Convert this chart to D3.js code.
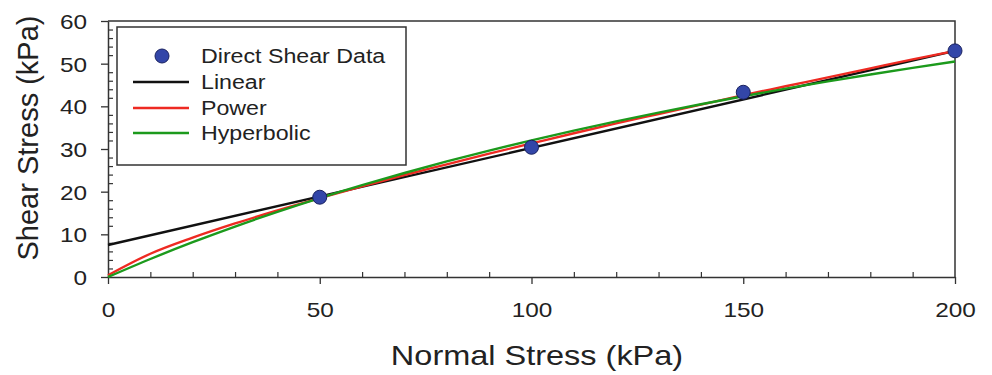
<!DOCTYPE html>
<html><head><meta charset="utf-8">
<script src="https://cdn.jsdelivr.net/npm/d3@7"></script>
<style>body{margin:0;background:#fff}svg{display:block}text{font-family:"Liberation Sans",Arial,sans-serif;fill:#222}</style>
</head><body><svg id="c" width="992" height="375"></svg>
<script>
const dataX = [50, 100, 150, 200];
const dataY = [18.7, 30.4, 43.3, 53.0];
const linearX = [0, 200];
const linearY = [7.5, 53.0];
const curveX = [0,10,20,30,40,50,60,70,80,90,100,110,120,130,140,150,160,170,180,190,200];
const powerY = [0.4,5.45,9.23,12.56,15.6,18.5,21.25,23.9,26.4,28.9,31.3,33.7,36.0,38.2,40.4,42.6,44.7,46.8,48.9,51.0,53.0];
const hyperY = [0,4.22,8.16,11.83,15.27,18.5,21.53,24.38,27.08,29.62,32.03,34.31,36.47,38.54,40.5,42.36,44.14,45.84,47.47,49.02,50.5];
const xTicks = [0,50,100,150,200];
const yTicks = [0,10,20,30,40,50,60];
const legendLabels = ["Direct Shear Data","Linear","Power","Hyperbolic"];
const colors = {data:"#3346a8", linear:"#111", power:"#ee2a22", hyper:"#1c9a1c"};

const SX = 1.16; // horizontal text stretch
const svg = d3.select("#c");
const L=108,R=955,T=21,B=277;
const x = d3.scaleLinear().domain([0,200]).range([L,R]);
const y = d3.scaleLinear().domain([0,60]).range([B,T]);
const g = svg.append("g");

// frame top/right
g.append("path").attr("d",`M${L},${T}H${R}V${B}`).attr("fill","none").attr("stroke","#333").attr("stroke-width",1.5);

// axes
const xa = g.append("g").attr("transform",`translate(0,${B})`)
  .call(d3.axisBottom(x).tickValues(xTicks).tickSize(7).tickSizeOuter(0));
const ya = g.append("g").attr("transform",`translate(${L},0)`)
  .call(d3.axisLeft(y).tickValues(yTicks).tickSize(7).tickSizeOuter(0));
[xa,ya].forEach(a=>{a.select(".domain").attr("stroke","#333").attr("stroke-width",1.5);
  a.selectAll(".tick line").attr("stroke","#333").attr("stroke-width",1.3);
  a.selectAll(".tick text").style("font-size","21px").attr("fill","#222");});
xa.selectAll(".tick text").attr("y",null).attr("dy",null)
  .attr("transform",`translate(0,40) scale(${SX},1)`);
ya.selectAll(".tick text").attr("x",null).attr("dy","0.36em")
  .attr("transform",`translate(-21,0) scale(${SX},1)`);

// minor ticks inward
const xMinor = d3.range(0,201,10).filter(v=>v%50!==0);
g.append("g").attr("transform",`translate(0,${B})`)
  .call(d3.axisTop(x).tickValues(xMinor).tickSize(5).tickFormat(""))
  .call(a=>{a.select(".domain").remove();a.selectAll("line").attr("stroke","#333").attr("stroke-width",1.2);});
const yMinor = d3.range(0,61,2).filter(v=>v%10!==0);
g.append("g").attr("transform",`translate(${L},0)`)
  .call(d3.axisRight(y).tickValues(yMinor).tickSize(5).tickFormat(""))
  .call(a=>{a.select(".domain").remove();a.selectAll("line").attr("stroke","#333").attr("stroke-width",1.2);});

// lines
const line = d3.line().x(d=>x(d[0])).y(d=>y(d[1]));
g.append("path").attr("d",line(linearX.map((v,i)=>[v,linearY[i]]))).attr("fill","none").attr("stroke",colors.linear).attr("stroke-width",2.4);
g.append("path").attr("d",line.curve(d3.curveMonotoneX)(curveX.map((v,i)=>[v,powerY[i]]))).attr("fill","none").attr("stroke",colors.power).attr("stroke-width",2.4);
g.append("path").attr("d",line.curve(d3.curveMonotoneX)(curveX.map((v,i)=>[v,hyperY[i]]))).attr("fill","none").attr("stroke",colors.hyper).attr("stroke-width",2.4);

// points
g.selectAll("circle.pt").data(dataX.map((v,i)=>[v,dataY[i]])).enter().append("circle")
  .attr("cx",d=>x(d[0])).attr("cy",d=>y(d[1])).attr("r",7)
  .attr("fill",colors.data).attr("stroke","#1a2260").attr("stroke-width",1);

// legend
const lg = g.append("g");
lg.append("rect").attr("x",117).attr("y",27).attr("width",289).attr("height",138).attr("fill","#fff").attr("stroke","#333").attr("stroke-width",1.5);
const ly = [56,82,108,133];
const lcol = [colors.data,colors.linear,colors.power,colors.hyper];
legendLabels.forEach((t,i)=>{
  if(i===0) lg.append("circle").attr("cx",162).attr("cy",ly[i]).attr("r",7).attr("fill",colors.data).attr("stroke","#1a2260");
  else lg.append("line").attr("x1",133).attr("x2",189).attr("y1",ly[i]).attr("y2",ly[i]).attr("stroke",lcol[i]).attr("stroke-width",2.6);
  lg.append("text").attr("transform",`translate(201,${ly[i]}) scale(${SX},1)`).attr("dy","0.36em").style("font-size","20px").text(t);
});

// axis titles
svg.append("text").attr("transform",`translate(537,365) scale(${SX},1)`).attr("text-anchor","middle").style("font-size","28px").text("Normal Stress (kPa)");
svg.append("text").attr("transform","translate(38,138) rotate(-90)").attr("text-anchor","middle").style("font-size","29px").text("Shear Stress (kPa)");
</script></body></html>
